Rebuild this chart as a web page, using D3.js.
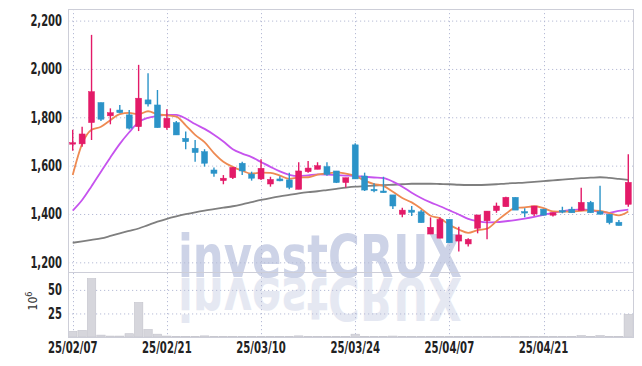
<!DOCTYPE html>
<html>
<head>
<meta charset="utf-8">
<script src="https://cdn.jsdelivr.net/npm/d3@7"></script>
<style>
body { margin: 0; background: #fff; }
text { font-family: "DejaVu Sans Condensed", "Liberation Sans Narrow", sans-serif; }
</style>
</head>
<body>
<svg width="642" height="366"></svg>
<script>
// trading days (yy/mm/dd)
var dates = ["25/02/07","25/02/10","25/02/11","25/02/12","25/02/13","25/02/14","25/02/17","25/02/18","25/02/19","25/02/20",
  "25/02/21","25/02/24","25/02/25","25/02/26","25/02/27","25/02/28","25/03/04","25/03/05","25/03/06","25/03/07",
  "25/03/10","25/03/11","25/03/12","25/03/13","25/03/14","25/03/17","25/03/18","25/03/19","25/03/20","25/03/21",
  "25/03/24","25/03/25","25/03/26","25/03/27","25/03/28","25/03/31","25/04/01","25/04/02","25/04/03","25/04/04",
  "25/04/07","25/04/08","25/04/09","25/04/10","25/04/11","25/04/14","25/04/15","25/04/16","25/04/17","25/04/18",
  "25/04/21","25/04/22","25/04/23","25/04/24","25/04/25","25/04/28","25/04/29","25/04/30","25/05/02","25/05/07"];

var open  = [1690,1690,1778,1861,1806,1830,1810,1761,1872,1851, 1757,1778,1713,1672,1658,1582,1538,1550,1610,1565,
             1545,1524,1545,1541,1502,1575,1585,1596,1578,1530, 1686,1557,1502,1495,1479,1399,1416,1409,1317,1300,
             1378,1288,1276,1341,1372,1414,1430,1469,1410,1400, 1420,1395,1414,1420,1414,1448,1410,1399,1366,1440];
var high  = [1748,1761,2141,1861,1837,1851,1830,2017,1982,1913, 1833,1785,1741,1706,1668,1592,1561,1593,1616,1575,
             1626,1554,1556,1571,1614,1619,1614,1614,1578,1550, 1693,1571,1527,1554,1479,1426,1433,1416,1386,1386,
             1378,1347,1300,1396,1412,1447,1471,1469,1424,1433, 1420,1405,1430,1430,1509,1454,1517,1399,1375,1647];
var low   = [1662,1678,1706,1785,1771,1817,1750,1743,1845,1757, 1748,1727,1668,1616,1596,1554,1523,1545,1561,1538,
             1541,1513,1535,1502,1502,1571,1585,1558,1528,1510, 1545,1495,1490,1488,1421,1386,1392,1364,1317,1300,
             1281,1245,1265,1320,1295,1405,1430,1416,1386,1392, 1395,1390,1403,1405,1414,1405,1399,1357,1352,1430];
var close = [1695,1731,1906,1792,1819,1819,1755,1879,1855,1757, 1796,1727,1699,1654,1610,1568,1548,1593,1578,1548,
             1589,1543,1537,1510,1578,1590,1600,1564,1530,1550, 1545,1499,1496,1488,1433,1416,1407,1364,1345,1378,
             1281,1313,1295,1396,1412,1433,1469,1416,1407,1433, 1395,1405,1410,1405,1448,1405,1399,1364,1352,1531];

var ma5  = [1561,1690,1748,1761,1788,1813,1818,1813,1825,1813, 1808,1803,1767,1727,1697,1652,1616,1595,1579,1567,
            1571,1570,1559,1545,1551,1552,1563,1568,1572,1567, 1558,1538,1524,1516,1492,1466,1448,1422,1393,1382,
            1355,1336,1322,1333,1339,1370,1401,1425,1427,1432, 1424,1411,1410,1410,1413,1415,1413,1404,1394,1410];
var ma20 = [1414,1458,1515,1575,1634,1690,1738,1780,1798,1805, 1810,1810,1795,1772,1752,1728,1700,1668,1650,1635,
            1615,1595,1576,1562,1557,1560,1564,1563,1561,1559, 1557,1554,1551,1548,1534,1513,1488,1466,1448,1432,
            1415,1398,1380,1370,1365,1366,1370,1375,1381,1388, 1396,1405,1412,1416,1419,1416,1409,1405,1413,1418];
var ma60 = [1281,1287,1293,1299,1309,1320,1330,1340,1354,1368, 1380,1390,1399,1407,1414,1420,1426,1432,1440,1449,
            1458,1466,1473,1479,1485,1490,1494,1499,1504,1509, 1513,1515,1517,1519,1521,1523,1525,1525,1525,1524,
            1523,1521,1520,1520,1521,1523,1526,1528,1530,1533, 1536,1539,1542,1545,1548,1550,1552,1549,1545,1541];

// volume, millions of shares
var volume = [6,7,62,2,1,1,3.5,36.6,8,3, 1,0.5,0.5,0.5,1.2,0.5,0.4,0.4,0.4,0.4,
              0.4,0.4,0.4,0.4,1.2,0.4,0.4,0.4,0.4,0.4, 3,0.6,0.4,0.4,1,0.4,0.4,0.4,0.4,0.4,
              0.4,0.4,0.4,0.4,0.4,0.4,0.4,0.4,0.4,0.4, 0.4,0.4,0.4,0.4,1.5,0.4,1.5,0.4,0.4,24];

var priceTicks = [1200,1400,1600,1800,2000,2200];
var volTicks = [25,50];
var xTicks = ["25/02/07","25/02/21","25/03/10","25/03/24","25/04/07","25/04/21"];

var svg = d3.select("svg"),
    L = 68, R = 633, T = 9, S = 272, B = 337;

var upColor = "#e31a68", downColor = "#2b93c8", gridColor = "#b7bcd6";

var x = d3.scaleBand().domain(dates).range([L, R]).padding(0),
    y = d3.scaleLinear().domain([1160, 2248]).range([S, T]),
    yv = d3.scaleLinear().domain([0, 69]).range([B, S]);
var bw = x.bandwidth();
function cx(d) { return x(d) + bw / 2; }

// watermark + its mirror image
svg.append("text")
    .attr("id", "wmark")
    .attr("x", 178).attr("y", 277)
    .attr("textLength", 284).attr("lengthAdjust", "spacingAndGlyphs")
    .style("font-size", "58px").style("font-weight", "bold")
    .attr("fill", "#cdd3e7")
    .text("investCRUX");
svg.append("use")
    .attr("href", "#wmark")
    .attr("transform", "translate(0,555) scale(1,-1)")
    .attr("opacity", 0.5);

// grid
var grid = svg.append("g").attr("stroke", gridColor).attr("stroke-dasharray", "1.2,2.8");
grid.selectAll(".hp").data(priceTicks).enter().append("line")
    .attr("x1", L).attr("x2", R)
    .attr("y1", function(d) { return y(d) + 0.5; }).attr("y2", function(d) { return y(d) + 0.5; });
grid.selectAll(".hv").data(volTicks).enter().append("line")
    .attr("x1", L).attr("x2", R)
    .attr("y1", function(d) { return yv(d) + 0.5; }).attr("y2", function(d) { return yv(d) + 0.5; });
grid.selectAll(".vx").data(xTicks).enter().append("line")
    .attr("y1", T).attr("y2", B)
    .attr("x1", function(d) { return Math.round(cx(d)) + 0.5; })
    .attr("x2", function(d) { return Math.round(cx(d)) + 0.5; });

// volume bars
svg.append("g").selectAll("rect").data(volume).enter().append("rect")
    .attr("x", function(d, i) { return x(dates[i]) + 0.5; })
    .attr("width", bw - 1)
    .attr("y", function(d) { return yv(d); })
    .attr("height", function(d) { return B - yv(d); })
    .attr("fill", "#d6d6dc")
    .attr("stroke", "#c4c4cc")
    .attr("stroke-width", 0.6);

// moving averages
function maLine(vals, color) {
  svg.append("path")
      .datum(vals)
      .attr("fill", "none")
      .attr("stroke", color)
      .attr("stroke-width", 1.8)
      .attr("d", d3.line()
          .curve(d3.curveMonotoneX)
          .x(function(d, i) { return cx(dates[i]); })
          .y(function(d) { return y(d); }));
}
maLine(ma60, "#7f7f7f");
maLine(ma20, "#c653ee");
maLine(ma5, "#ee8a52");

// candles
var candles = svg.append("g").selectAll("g").data(dates).enter().append("g")
    .attr("fill", function(d, i) { return close[i] >= open[i] ? upColor : downColor; })
    .attr("stroke", function(d, i) { return close[i] >= open[i] ? upColor : downColor; });
candles.append("line")
    .attr("x1", function(d) { return cx(d); }).attr("x2", function(d) { return cx(d); })
    .attr("y1", function(d, i) { return y(high[i]); })
    .attr("y2", function(d, i) { return y(low[i]); })
    .attr("stroke-width", 1.4);
candles.append("rect")
    .attr("x", function(d) { return cx(d) - 3; })
    .attr("width", 6)
    .attr("y", function(d, i) { return y(Math.max(open[i], close[i])); })
    .attr("height", function(d, i) { return Math.max(1.5, Math.abs(y(open[i]) - y(close[i]))); })
    .attr("stroke-width", 0.5);

// frame
svg.append("rect").attr("x", L + 0.5).attr("y", T + 0.5).attr("width", R - L).attr("height", B - T)
    .attr("fill", "none").attr("stroke", "#cdced8");
svg.append("line").attr("x1", L).attr("x2", R).attr("y1", S + 0.5).attr("y2", S + 0.5)
    .attr("stroke", "#cdced8");

// axes
var yAxis = svg.append("g").attr("transform", "translate(" + L + ",0)")
    .call(d3.axisLeft(y).tickValues(priceTicks).tickFormat(d3.format(",")).tickSize(0).tickPadding(6));
var vAxis = svg.append("g").attr("transform", "translate(" + L + ",0)")
    .call(d3.axisLeft(yv).tickValues(volTicks).tickSize(0).tickPadding(6));
var xAxis = svg.append("g").attr("transform", "translate(0," + B + ")")
    .call(d3.axisBottom(x).tickValues(xTicks).tickSize(0).tickPadding(5));
[yAxis, vAxis, xAxis].forEach(function(a) {
  a.select(".domain").remove();
  a.selectAll("text").attr("fill", "#222").style("font-size", "15px").style("font-weight", "bold");
});
// narrow the tick labels to match the condensed face of the original
yAxis.selectAll("text").attr("x", 0).attr("transform", "translate(-6,0) scale(0.74,1)");
vAxis.selectAll("text").attr("x", 0).attr("transform", "translate(-6,0) scale(0.74,1)");
xAxis.selectAll("text").attr("transform", "scale(0.75,1)");

// volume unit label
var unit = svg.append("text")
    .attr("transform", "translate(37,301) rotate(-90)")
    .attr("text-anchor", "middle")
    .attr("fill", "#333")
    .style("font-size", "12px");
unit.append("tspan").text("10");
unit.append("tspan").attr("dy", -5).style("font-size", "9px").text("6");
</script>
</body>
</html>
